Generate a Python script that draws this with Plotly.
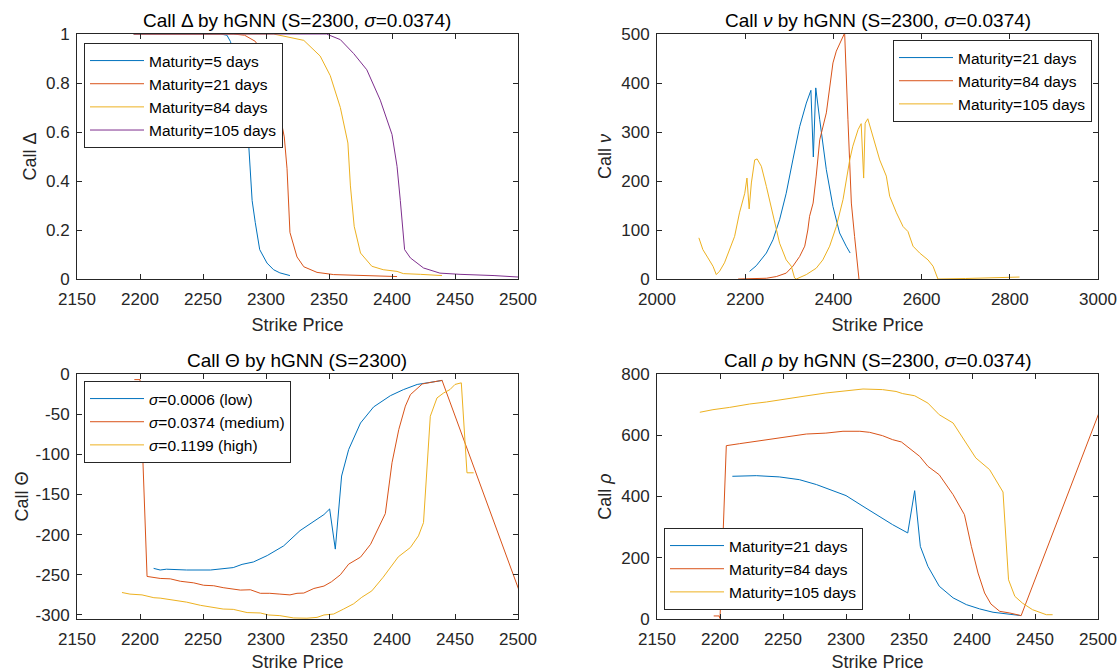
import plotly.graph_objects as go

C = ["#0072BD", "#D95319", "#EDB120", "#7E2F8E"]

# ---- Delta data ----
d5_x = [2195, 2250, 2263.8, 2269, 2271.7, 2276, 2281, 2286, 2289, 2291.5, 2295, 2300.8, 2306, 2311, 2319]
d5_y = [1, 1, 1, 0.995, 0.97, 0.9, 0.75, 0.57, 0.32, 0.23, 0.12, 0.065, 0.038, 0.025, 0.014]
d21_x = [2195, 2274, 2283, 2291.5, 2300, 2308, 2314.5, 2316.7, 2319, 2324.6, 2330, 2340.5, 2353.7, 2375, 2404]
d21_y = [1, 1, 0.995, 0.97, 0.9, 0.75, 0.58, 0.45, 0.19, 0.09, 0.05, 0.027, 0.018, 0.014, 0.01]
d84_x = [2195, 2306, 2330, 2343, 2351, 2359, 2365, 2367, 2370, 2375, 2384, 2393, 2404, 2409, 2422.5, 2439.7]
d84_y = [1, 1, 0.974, 0.91, 0.83, 0.70, 0.555, 0.38, 0.215, 0.106, 0.052, 0.038, 0.031, 0.022, 0.019, 0.014]
d105_x = [2195, 2348, 2359, 2369.6, 2380, 2390.7, 2400, 2404, 2406.6, 2410, 2414.6, 2425, 2438, 2454, 2481, 2500.5]
d105_y = [1, 1, 0.977, 0.92, 0.854, 0.73, 0.59, 0.46, 0.32, 0.12, 0.086, 0.045, 0.024, 0.019, 0.014, 0.008]

# ---- Vega data ----
v21_x = [2210, 2225, 2248, 2263, 2278, 2293, 2308, 2323.5, 2338.6, 2349, 2354.5, 2360, 2369, 2384, 2399, 2414, 2429, 2438]
v21_y = [15.6, 27, 53, 80, 121, 175, 243, 311, 359, 385, 249, 390, 325, 223, 148, 94, 67, 53]
v84_x = [2184, 2248, 2270.6, 2293, 2308, 2323.5, 2335, 2342, 2346, 2354, 2361, 2369, 2384, 2399, 2406.6, 2421.8, 2425.5,
         2433, 2440.7, 2448, 2452, 2458]
v84_y = [0, 1.5, 5, 12, 26, 46, 67, 100, 128, 155, 210, 284, 339, 441, 465, 497, 502,
         325, 155, 87, 53, 0]
v105_x = [2095, 2104, 2115.6, 2127, 2134.5, 2142, 2153, 2165, 2176, 2187, 2199, 2204, 2209, 2214, 2221.5, 2227, 2236.6,
          2248, 2263, 2278, 2293, 2304.6, 2312, 2316, 2338.6, 2361, 2376, 2391.5, 2406.6, 2421.8, 2437, 2444, 2456,
          2463, 2468.6, 2472, 2478, 2490, 2505, 2520, 2527.6, 2543, 2558, 2569, 2580.5, 2595.6, 2614.5, 2626, 2637,
          2700, 2760, 2822]
v105_y = [84, 60, 43, 26, 9, 16, 33, 60, 87, 135, 175, 206, 143, 196, 243, 245, 230,
          189, 128, 73, 39, 26, 2, 0, 9, 22, 39, 67, 107, 162, 243, 271, 305,
          317, 206, 318, 327, 291, 243, 210, 169, 135, 107, 97, 67, 53, 39, 26, 0,
          1, 2.5, 4]

# ---- Theta data ----
t_lo_x = [2210.8, 2216, 2221, 2237, 2256, 2261, 2266, 2274, 2281, 2290, 2301, 2314, 2327, 2340.5, 2346, 2350.5, 2355,
          2360, 2365.6, 2375, 2385.4, 2398.7, 2409, 2420, 2428, 2440]
t_lo_y = [-242, -244, -243, -244, -244, -243, -242, -241, -237, -234, -226, -214, -195, -181, -175, -168, -218,
          -127, -94, -61, -41, -27, -19.5, -13, -11, -8]
t_md_x = [2195.5, 2200, 2205.6, 2211, 2216, 2224, 2232, 2242.6, 2250.5, 2258.5, 2266, 2279.6, 2287.6, 2295.5, 2303,
          2311, 2319, 2324.6, 2330, 2338, 2346, 2352, 2359, 2365.6, 2375, 2383, 2394.7, 2400, 2405.4, 2410.6, 2414.6,
          2424, 2433, 2439.7, 2500.5]
t_md_y = [-7, -7, -252, -253, -254.5, -255, -258, -260, -263, -263.6, -266, -269, -268.6, -273, -273,
          -274, -275, -273, -272.7, -267, -264, -258.6, -250, -236.7, -228, -212, -173.8, -110.5, -69, -40, -25.7,
          -12.4, -10, -7.9, -268]
t_hi_x = [2185.7, 2192, 2201.6, 2211, 2216, 2226.7, 2237, 2248, 2258.5, 2266, 2274, 2285, 2295.5, 2302, 2311, 2322,
          2332.5, 2340.5, 2346, 2353.7, 2361.6, 2369.6, 2376, 2384, 2393, 2405, 2414.6, 2421, 2425, 2427.8, 2430.4,
          2435.7, 2441, 2446, 2450, 2455, 2459.5, 2464.8]
t_hi_y = [-272, -274, -275, -278.5, -279, -281.8, -284, -288, -291, -292.6, -293, -297, -297.5, -300, -300.8, -303.7,
          -304, -303, -300, -298.8, -292.6, -286, -278, -270, -253, -227.6, -216, -201.5, -185, -114.6, -52.6,
          -29.8, -23.6, -19.4, -13, -11, -123, -123]

# ---- Rho data ----
r21_x = [2209.8, 2228.8, 2247, 2263, 2276.5, 2289.7, 2300, 2313.5, 2326.7, 2337, 2349, 2354.5, 2359, 2365, 2374, 2385,
         2395.5, 2406, 2416.7, 2427, 2439]
r21_y = [466, 468, 464, 455, 439, 419, 403, 368, 335, 308, 281, 419, 237, 172, 107, 69, 47, 33, 22, 16, 11]
r84_x = [2195, 2199.3, 2200, 2205, 2215.6, 2228.8, 2242, 2255, 2268.5, 2284, 2297.6, 2311, 2318.8, 2329, 2337, 2344,
         2349, 2358.5, 2365, 2374, 2385, 2394, 2399.5, 2404.8, 2410, 2415, 2422, 2430, 2439, 2500.5]
r84_y = [10, 10, 2, 566, 572.5, 580, 589, 594, 604, 607, 613, 613, 609.5, 598.6, 585.6, 578,
         561.6, 531, 498.5, 471, 406, 340.7, 237, 150, 85, 49, 25, 19.6, 11, 670]
r105_x = [2184, 2194.4, 2207.7, 2223.5, 2236.8, 2252.6, 2265.9, 2284, 2297.6, 2313.5, 2329, 2339.7, 2345, 2354.5,
          2365, 2374, 2385, 2395.5, 2403, 2414, 2424.6, 2429, 2434, 2440, 2448, 2459, 2464]
r105_y = [675, 683.5, 691, 702, 708.6, 719.5, 727, 738, 743, 751, 749, 743, 736, 729,
          705, 667, 640, 575, 526, 487.6, 414.7, 128, 74, 52, 30.5, 14, 14]

FONT = "Liberation Sans, Arial, Helvetica, sans-serif"
TXT = "#262626"

fig = go.Figure()

def add(x, y, name, color, xa, ya, legend):
    fig.add_trace(go.Scatter(x=x, y=y, mode="lines", name=name, line=dict(color=color, width=1),
                             xaxis=xa, yaxis=ya, legend=legend, cliponaxis=True))

add(d5_x, d5_y, "Maturity=5 days", C[0], "x", "y", "legend")
add(d21_x, d21_y, "Maturity=21 days", C[1], "x", "y", "legend")
add(d84_x, d84_y, "Maturity=84 days", C[2], "x", "y", "legend")
add(d105_x, d105_y, "Maturity=105 days", C[3], "x", "y", "legend")

add(v21_x, v21_y, "Maturity=21 days", C[0], "x2", "y2", "legend2")
add(v84_x, v84_y, "Maturity=84 days", C[1], "x2", "y2", "legend2")
add(v105_x, v105_y, "Maturity=105 days", C[2], "x2", "y2", "legend2")

add(t_lo_x, t_lo_y, "<i>σ</i>=0.0006 (low)", C[0], "x3", "y3", "legend3")
add(t_md_x, t_md_y, "<i>σ</i>=0.0374 (medium)", C[1], "x3", "y3", "legend3")
add(t_hi_x, t_hi_y, "<i>σ</i>=0.1199 (high)", C[2], "x3", "y3", "legend3")

add(r21_x, r21_y, "Maturity=21 days", C[0], "x4", "y4", "legend4")
add(r84_x, r84_y, "Maturity=84 days", C[1], "x4", "y4", "legend4")
add(r105_x, r105_y, "Maturity=105 days", C[2], "x4", "y4", "legend4")

W, H = 1119, 672
xl = [77 / W, 518 / W]
xr = [657 / W, 1098 / W]
yt = [1 - 279 / H, 1 - 34 / H]
yb = [1 - 619 / H, 1 - 374 / H]

def ax(domain, anchor, rng, tickvals, ticktext=None, title=None, standoff=4, isx=False):
    d = dict(domain=domain, anchor=anchor, range=rng, tickvals=tickvals, showline=True, mirror="ticks",
             linecolor=TXT, linewidth=1, ticks="inside", ticklen=5, tickcolor=TXT, showgrid=False,
             zeroline=False, automargin=False, tickfont=dict(family=FONT, size=17, color=TXT),
             ticklabelstandoff=5 if isx else 3)
    if ticktext is not None:
        d["ticktext"] = ticktext
    if title is not None:
        d["title"] = dict(text=title, font=dict(family=FONT, size=18, color=TXT), standoff=standoff)
    return d

xt_k = [2150, 2200, 2250, 2300, 2350, 2400, 2450, 2500]

fig.update_layout(
    width=W, height=H, margin=dict(l=0, r=0, t=0, b=0),
    paper_bgcolor="white", plot_bgcolor="white",
    font=dict(family=FONT, color=TXT),
    xaxis=ax(xl, "y", [2150, 2500], xt_k, title="Strike Price", standoff=9, isx=True),
    yaxis=ax(yt, "x", [0, 1], [0, 0.2, 0.4, 0.6, 0.8, 1], ["0", "0.2", "0.4", "0.6", "0.8", "1"], title="Call Δ"),
    xaxis2=ax(xr, "y2", [2000, 3000], [2000, 2200, 2400, 2600, 2800, 3000], title="Strike Price", standoff=9, isx=True),
    yaxis2=ax(yt, "x2", [0, 500], [0, 100, 200, 300, 400, 500], title="Call <i>ν</i>"),
    xaxis3=ax(xl, "y3", [2150, 2500], xt_k, title="Strike Price", standoff=9, isx=True),
    yaxis3=ax(yb, "x3", [-305, 0], [-300, -250, -200, -150, -100, -50, 0],
              ["-300", "-250", "-200", "-150", "-100", "-50", "0"], title="Call Θ", standoff=2),
    xaxis4=ax(xr, "y4", [2150, 2500], xt_k, title="Strike Price", standoff=9, isx=True),
    yaxis4=ax(yb, "x4", [0, 800], [0, 200, 400, 600, 800], title="Call <i>ρ</i>"),
)

def leg(x, y, xanchor="left", yanchor="top"):
    return dict(x=x, y=y, xanchor=xanchor, yanchor=yanchor, xref="paper", yref="paper",
                bgcolor="white", bordercolor=TXT, borderwidth=1, tracegroupgap=0,
                font=dict(family=FONT, size=15.5, color="#000"), itemwidth=54)

fig.update_layout(
    legend=leg(84 / W, 1 - 43 / H),
    legend2=leg(1092 / W, 1 - 40 / H, xanchor="right"),
    legend3=leg(84 / W, 1 - 381 / H),
    legend4=leg(664 / W, 1 - 610 / H, yanchor="bottom"),
)

titles = [
    ("Call Δ by hGNN (S=2300, <i>σ</i>=0.0374)", (xl[0] + xl[1]) / 2, 1 - 20 / H),
    ("Call <i>ν</i> by hGNN (S=2300, <i>σ</i>=0.0374)", (xr[0] + xr[1]) / 2, 1 - 20 / H),
    ("Call Θ by hGNN (S=2300)", (xl[0] + xl[1]) / 2, 1 - 360 / H),
    ("Call <i>ρ</i> by hGNN (S=2300, <i>σ</i>=0.0374)", (xr[0] + xr[1]) / 2, 1 - 360 / H),
]
for t, x, y in titles:
    fig.add_annotation(text=t, x=x, y=y, xref="paper", yref="paper", showarrow=False,
                       xanchor="center", yanchor="middle", font=dict(family=FONT, size=19, color="#000"))

fig.write_html("out.html", config={"displayModeBar": False},
               post_script="document.body.style.margin='0';document.body.style.overflow='hidden';")
